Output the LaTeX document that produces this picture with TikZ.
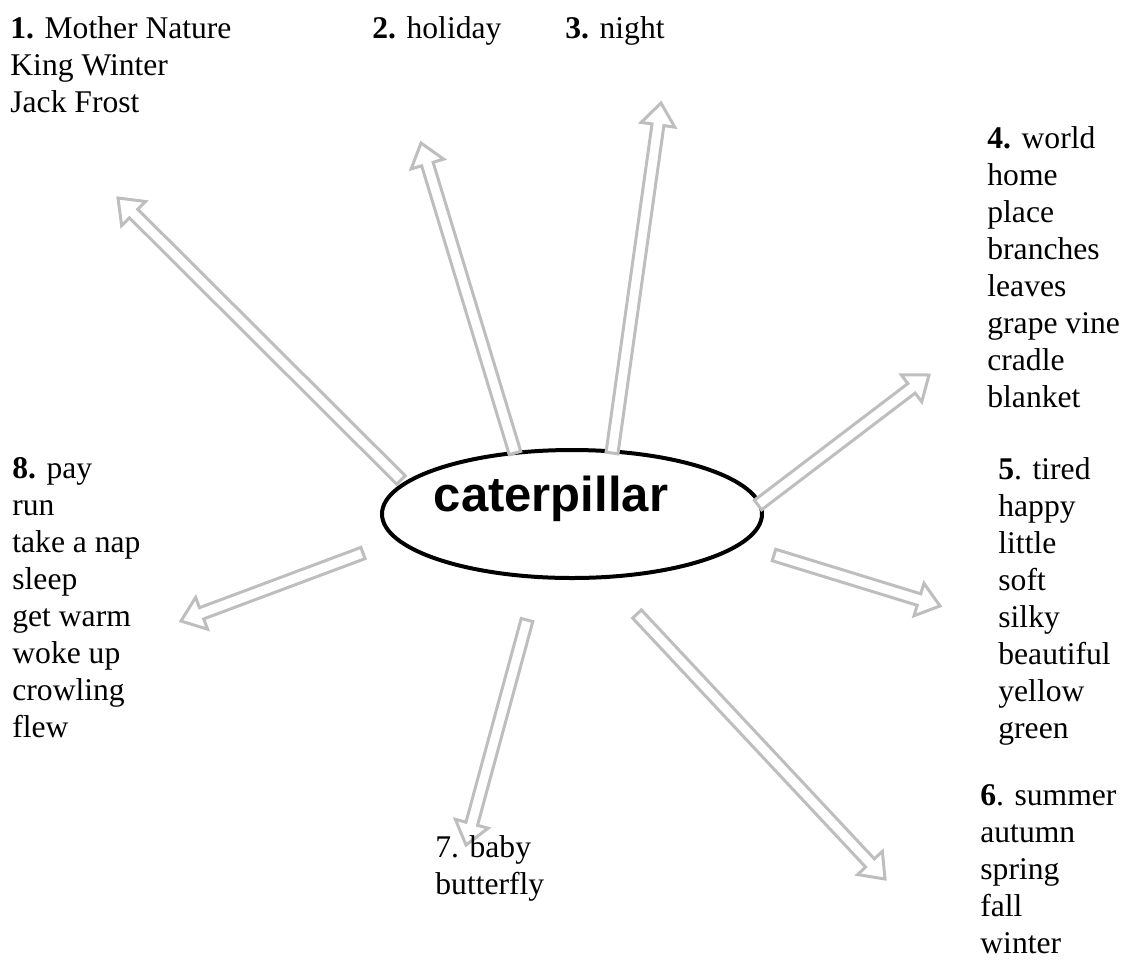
\documentclass[tikz,border=0pt]{standalone}
\usepackage{fontspec}
\setmainfont{Liberation Serif}
\setsansfont{Liberation Sans}
\usetikzlibrary{calc,shapes.geometric}

\definecolor{arrowgray}{RGB}{190,190,190}

\tikzset{
  wordlist/.style={anchor=north west, align=left, inner sep=0pt,
    font=\fontsize{15.8}{18.5}\selectfont},
  hollow/.style={draw=arrowgray, line width=1.5pt, fill=white, line join=miter},
  centre/.style={draw, ellipse, line width=2pt, fill=white,
    minimum width=190pt, minimum height=64pt, inner sep=0pt}
}

% hollow block arrow from #1 to #2
\newcommand{\hollowarrow}[2]{%
  \path ($(#2)!11pt!(#1)$) coordinate (hb);
  \draw[hollow] ($(#1)!3pt!90:(#2)$) -- ($(hb)!3pt!90:(#2)$)
    -- ($(hb)!8.5pt!90:(#2)$) -- (#2) -- ($(hb)!8.5pt!-90:(#2)$)
    -- ($(hb)!3pt!-90:(#2)$) -- ($(#1)!3pt!-90:(#2)$) -- cycle;
}

\begin{document}
\begin{tikzpicture}[x=0.5pt, y=-0.5pt]
  \useasboundingbox (0,0) rectangle (1125,960);

  % centre
  \node[centre] (cat) at (572,514) {};
  \node[font=\sffamily\bfseries\fontsize{24.5}{28}\selectfont] (word) at (551,499) {caterpillar};

  % arrow ends
  \coordinate (s1) at (401,480);  \coordinate (t1) at (118,198);
  \coordinate (s2) at (515,453);  \coordinate (t2) at (421,143);
  \coordinate (s3) at (612,453);  \coordinate (t3) at (661,103);
  \coordinate (s4) at (758,505);  \coordinate (t4) at (929,375);
  \coordinate (s5) at (774,555);  \coordinate (t5) at (940,606);
  \coordinate (s6) at (637,614);  \coordinate (t6) at (885,879);
  \coordinate (s7) at (527,620);  \coordinate (t7) at (466,845);
  \coordinate (s8) at (363,553);  \coordinate (t8) at (181,621);

  \foreach \i in {1,...,8} {
    \hollowarrow{s\i}{t\i}
  }

  % word lists
  \node[wordlist] (list1) at (10,16) {\textbf{1.} Mother Nature\\King Winter\\Jack Frost};
  \node[wordlist] (list2) at (372,16) {\textbf{2.} holiday};
  \node[wordlist] (list3) at (565,16) {\textbf{3.} night};
  \node[wordlist] (list4) at (987,126) {\textbf{4.} world\\home\\place\\branches\\leaves\\grape vine\\cradle\\blanket};
  \node[wordlist] (list5) at (998,457) {\textbf{5}. tired\\happy\\little\\soft\\silky\\beautiful\\yellow\\green};
  \node[wordlist] (list6) at (980,784) {\textbf{6}. summer\\autumn\\spring\\fall\\winter};
  \node[wordlist] (list7) at (435,835) {7. baby\\butterfly};
  \node[wordlist] (list8) at (12,457) {\textbf{8.} pay\\run\\take a nap\\sleep\\get warm\\woke up\\crowling\\flew};
\end{tikzpicture}
\end{document}
